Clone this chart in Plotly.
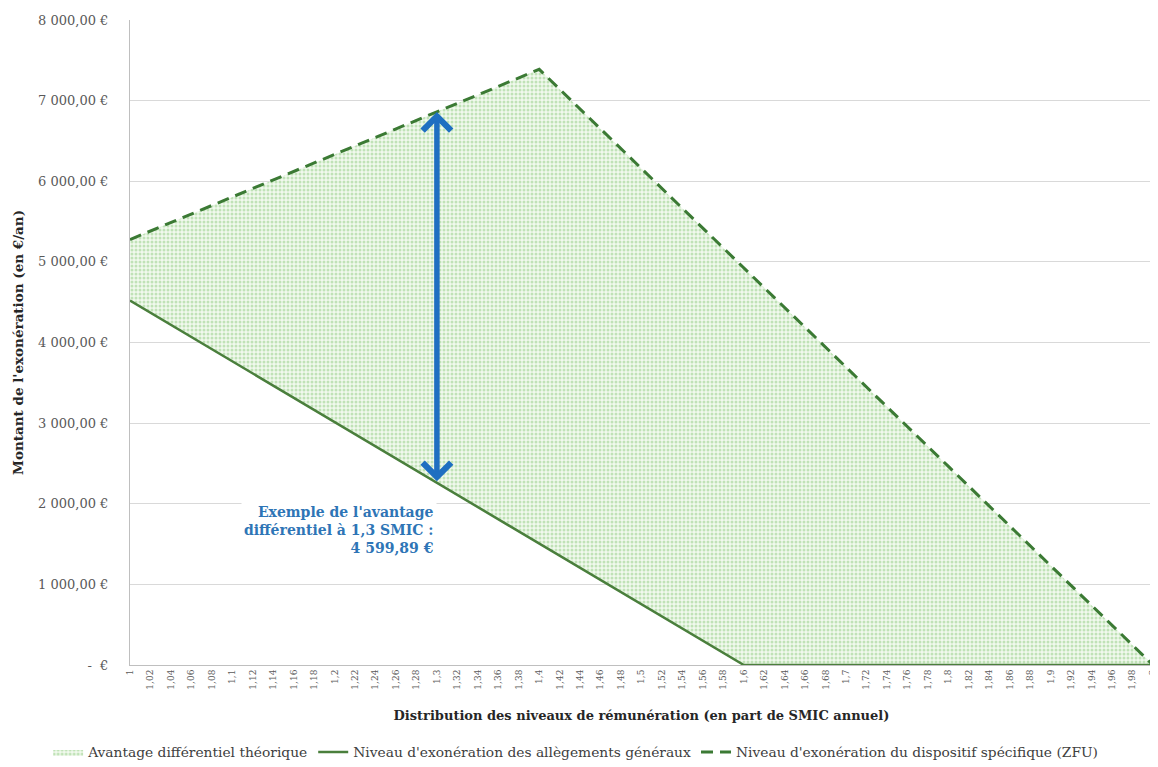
import plotly.graph_objects as go

categories = ["1", "1,02", "1,04", "1,06", "1,08", "1,1", "1,12", "1,14", "1,16", "1,18",
              "1,2", "1,22", "1,24", "1,26", "1,28", "1,3", "1,32", "1,34", "1,36", "1,38",
              "1,4", "1,42", "1,44", "1,46", "1,48", "1,5", "1,52", "1,54", "1,56", "1,58",
              "1,6", "1,62", "1,64", "1,66", "1,68", "1,7", "1,72", "1,74", "1,76", "1,78",
              "1,8", "1,82", "1,84", "1,86", "1,88", "1,9", "1,92", "1,94", "1,96", "1,98", "2"]

allegements = [4520, 4369, 4219, 4068, 3917, 3767, 3616, 3465, 3315, 3164,
               3013, 2863, 2712, 2561, 2411, 2260, 2109, 1959, 1808, 1657,
               1507, 1356, 1205, 1055, 904, 753, 603, 452, 301, 151,
               0, 0, 0, 0, 0, 0, 0, 0, 0, 0,
               0, 0, 0, 0, 0, 0, 0, 0, 0, 0, 0]

zfu = [5277, 5382, 5488, 5594, 5699, 5805, 5910, 6016, 6121, 6227,
       6332, 6438, 6543, 6649, 6755, 6860, 6966, 7071, 7177, 7282,
       7388, 7142, 6895, 6649, 6403, 6157, 5910, 5664, 5418, 5172,
       4925, 4679, 4433, 4187, 3940, 3694, 3448, 3202, 2955, 2709,
       2463, 2216, 1970, 1724, 1478, 1231, 985, 739, 493, 246, 0]

y_tickvals = [0, 1000, 2000, 3000, 4000, 5000, 6000, 7000, 8000]
y_ticktext = ["-  €", "1 000,00 €", "2 000,00 €", "3 000,00 €", "4 000,00 €",
              "5 000,00 €", "6 000,00 €", "7 000,00 €", "8 000,00 €"]

example_category = "1,3"
example_low = 2260
example_high = 6860
example_text = "Exemple de l'avantage<br>différentiel à 1,3 SMIC :<br>4 599,89 €"

FONT = "DejaVu Serif"
GREEN = "#3b7a34"

fig = go.Figure()
fig.add_trace(go.Scatter(x=categories, y=allegements, mode="lines",
                         line=dict(width=0), showlegend=False, hoverinfo="skip"))
fig.add_trace(go.Scatter(x=categories, y=zfu, mode="lines", fill="tonexty",
                         line=dict(width=0, color="#9fd48f"),
                         fillcolor="rgba(0,0,0,0)",
                         fillpattern=dict(shape=".", fgcolor="#8fcc80", bgcolor="#f1f9ee",
                                          size=4, solidity=0.45),
                         name="Avantage différentiel théorique"))
fig.add_trace(go.Scatter(x=categories, y=allegements, mode="lines",
                         line=dict(width=2.5, color="#4a7f3c"),
                         name="Niveau d'exonération des allègements généraux"))
fig.add_trace(go.Scatter(x=categories, y=zfu, mode="lines",
                         line=dict(width=3, color=GREEN, dash="12px,7px"),
                         name="Niveau d'exonération du dispositif spécifique (ZFU)"))

fig.add_annotation(x=example_category, y=example_high, ax=example_category, ay=example_low,
                   xref="x", yref="y", axref="x", ayref="y", text="",
                   showarrow=True, arrowhead=4, startarrowhead=4, arrowside="end+start",
                   arrowsize=1, startarrowsize=1,
                   arrowwidth=5.5, arrowcolor="#1f6fc1")
fig.add_annotation(x=example_category, y=1669, xref="x", yref="y", text=example_text,
                   showarrow=False, xanchor="right", yanchor="middle", align="right",
                   bgcolor="white", borderpad=2,
                   font=dict(family=FONT, size=14, color="#2e75b6", weight="bold"))

fig.update_layout(
    width=1150, height=759,
    margin=dict(l=122, r=5, t=12, b=102, autoexpand=False),
    paper_bgcolor="white", plot_bgcolor="white",
    font=dict(family=FONT, color="#404040"),
    showlegend=True,
    legend=dict(orientation="h", xref="paper", x=-0.08, xanchor="left",
                yref="paper", y=-0.135, yanchor="middle", traceorder="normal",
                font=dict(family=FONT, size=13.8, color="#404040"),
                itemwidth=30, tracegroupgap=0),
)
fig.update_xaxes(type="category", range=[0, len(categories) - 1], automargin=False,
                 tickangle=-90, tickfont=dict(family=FONT, size=9, color="#595959"),
                 showgrid=False, showline=True, linecolor="#bfbfbf", linewidth=1,
                 ticks="", zeroline=False,
                 title=dict(text="Distribution des niveaux de rémunération (en part de SMIC annuel)",
                            font=dict(family=FONT, size=13, color="#262626", weight="bold"),
                            standoff=22))
fig.update_yaxes(range=[0, 8000], tickvals=y_tickvals, ticktext=y_ticktext, automargin=False,
                 tickfont=dict(family=FONT, size=13, color="#595959"),
                 showgrid=True, gridcolor="#d9d9d9", gridwidth=1,
                 showline=True, linecolor="#bfbfbf", linewidth=1, zeroline=False,
                 ticklabelstandoff=18,
                 title=dict(text="Montant de l'exonération (en €/an)",
                            font=dict(family=FONT, size=13.5, color="#262626", weight="bold"),
                            standoff=11))

fig.write_html("out.html")
